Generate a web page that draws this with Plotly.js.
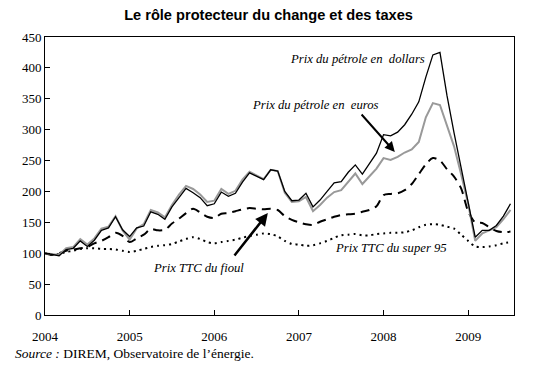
<!DOCTYPE html>
<html><head><meta charset="utf-8">
<script src="https://cdn.plot.ly/plotly-3.0.1.min.js"></script>
<style>html,body{margin:0;padding:0;background:#fff}#chart{width:537px;height:372px}</style>
</head><body><div id="chart"></div>
<script>
// Monthly index, base 100 = January 2004
var yearLabels = ["2004","2005","2006","2007","2008","2009"];
var dollars = [100,98,96,106,108,120,111,121,137,141,159,138,127,141,144,167,163,155,175,190,205,198,190,177,180,199,192,197,215,230,225,219,235,233,200,185,186,197,175,186,200,214,216,231,243,228,245,262,292,290,296,308,325,345,385,421,425,355,295,238,182,126,137,137,145,160,180];
var euros   = [100,98,97,108,110,123,114,124,140,143,160,137,122,140,147,170,166,158,178,195,209,204,195,183,185,204,196,201,219,232,226,220,235,233,198,183,184,191,168,178,190,199,202,215,229,212,225,237,254,251,256,263,268,280,320,343,340,305,273,228,180,120,132,137,142,155,170];
var fioul   = [100,97,100,104,106,108,110,116,120,126,133,128,118,124,130,139,137,138,148,156,165,172,166,159,157,164,165,168,171,173,172,171,172,170,160,154,150,147,146,151,155,159,162,163,164,167,170,176,194,196,197,202,212,228,244,254,250,236,224,205,168,150,149,142,136,134,135];
var super95 = [100,97,99,102,104,107,108,108,107,107,106,104,102,104,107,110,112,113,115,119,123,126,123,118,116,118,120,122,125,128,130,132,131,127,120,115,114,112,113,116,120,125,129,130,131,129,129,131,132,133,133,134,137,142,146,147,146,143,140,130,120,111,110,111,113,116,118];

var months = dollars.map(function(_, i){ return i; });
var tickMonths = yearLabels.map(function(_, i){ return i*12; });

var traces = [
  {x: months, y: super95, mode:'lines', line:{color:'#000', width:2, dash:'2px,4px', shape:'spline', smoothing:0.8}, name:'super95'},
  {x: months, y: fioul, mode:'lines', line:{color:'#000', width:2, dash:'9px,6px', shape:'spline', smoothing:0.8}, name:'fioul'},
  {x: months, y: euros, mode:'lines', line:{color:'#999999', width:2}, name:'euros'},
  {x: months, y: dollars, mode:'lines', line:{color:'#000', width:1.3}, name:'dollars'}
];

var SERIF = 'Times New Roman';
var annFont = {family:SERIF, size:12.7, color:'#000'};
var layout = {
  width:537, height:372,
  margin:{l:45, r:23, t:37, b:57},
  paper_bgcolor:'#fff', plot_bgcolor:'#fff',
  showlegend:false,
  font:{family:SERIF},
  title:{text:'<b>Le rôle protecteur du change et des taxes</b>', x:0.5, xanchor:'center', y:0.96, yanchor:'middle',
         font:{family:'Arial', size:14.6, color:'#000'}},
  xaxis:{range:[0,66.5], tickmode:'array', tickvals:tickMonths, ticktext:yearLabels,
         ticks:'inside', ticklen:5, tickcolor:'#000', showgrid:false, zeroline:false,
         showline:true, linecolor:'#000', linewidth:1, mirror:true, ticklabelstandoff:9,
         tickfont:{family:SERIF, size:13, color:'#000'}},
  yaxis:{range:[0,450], dtick:50, tick0:0, ticks:'inside', ticklen:5, tickcolor:'#000',
         showgrid:false, zeroline:false, showline:true, linecolor:'#000', linewidth:1, mirror:true,
         tickfont:{family:SERIF, size:13, color:'#000'}},
  annotations:[
    {x:44.3, y:415, xref:'x', yref:'y', text:'<i>Prix du pétrole en  dollars</i>', showarrow:false, font:annFont},
    {x:38.4, y:340, xref:'x', yref:'y', text:'<i>Prix du pétrole en  euros</i>', showarrow:false, font:annFont},
    {x:21.7, y:76, xref:'x', yref:'y', text:'<i>Prix TTC du fioul</i>', showarrow:false, font:annFont},
    {x:49.0, y:108, xref:'x', yref:'y', text:'<i>Prix TTC du super 95</i>', showarrow:false, font:annFont},
    {x:49.6, y:264, xref:'x', yref:'y', ax:44.7, ay:327, axref:'x', ayref:'y', text:'', showarrow:true,
     arrowhead:2, arrowsize:1, arrowwidth:2, arrowcolor:'#000'},
    {x:31.6, y:165, xref:'x', yref:'y', ax:26.7, ay:94, axref:'x', ayref:'y', text:'', showarrow:true,
     arrowhead:2, arrowsize:1, arrowwidth:2.5, arrowcolor:'#000'},
    {x:-0.068, y:-0.14, xref:'paper', yref:'paper', xanchor:'left', yanchor:'middle', showarrow:false,
     text:'<i>Source :</i> DIREM, Observatoire de l\u2019énergie.', font:{family:SERIF, size:13.5, color:'#000'}}
  ]
};
Plotly.newPlot('chart', traces, layout, {displayModeBar:false, staticPlot:true});
</script>
</body></html>
